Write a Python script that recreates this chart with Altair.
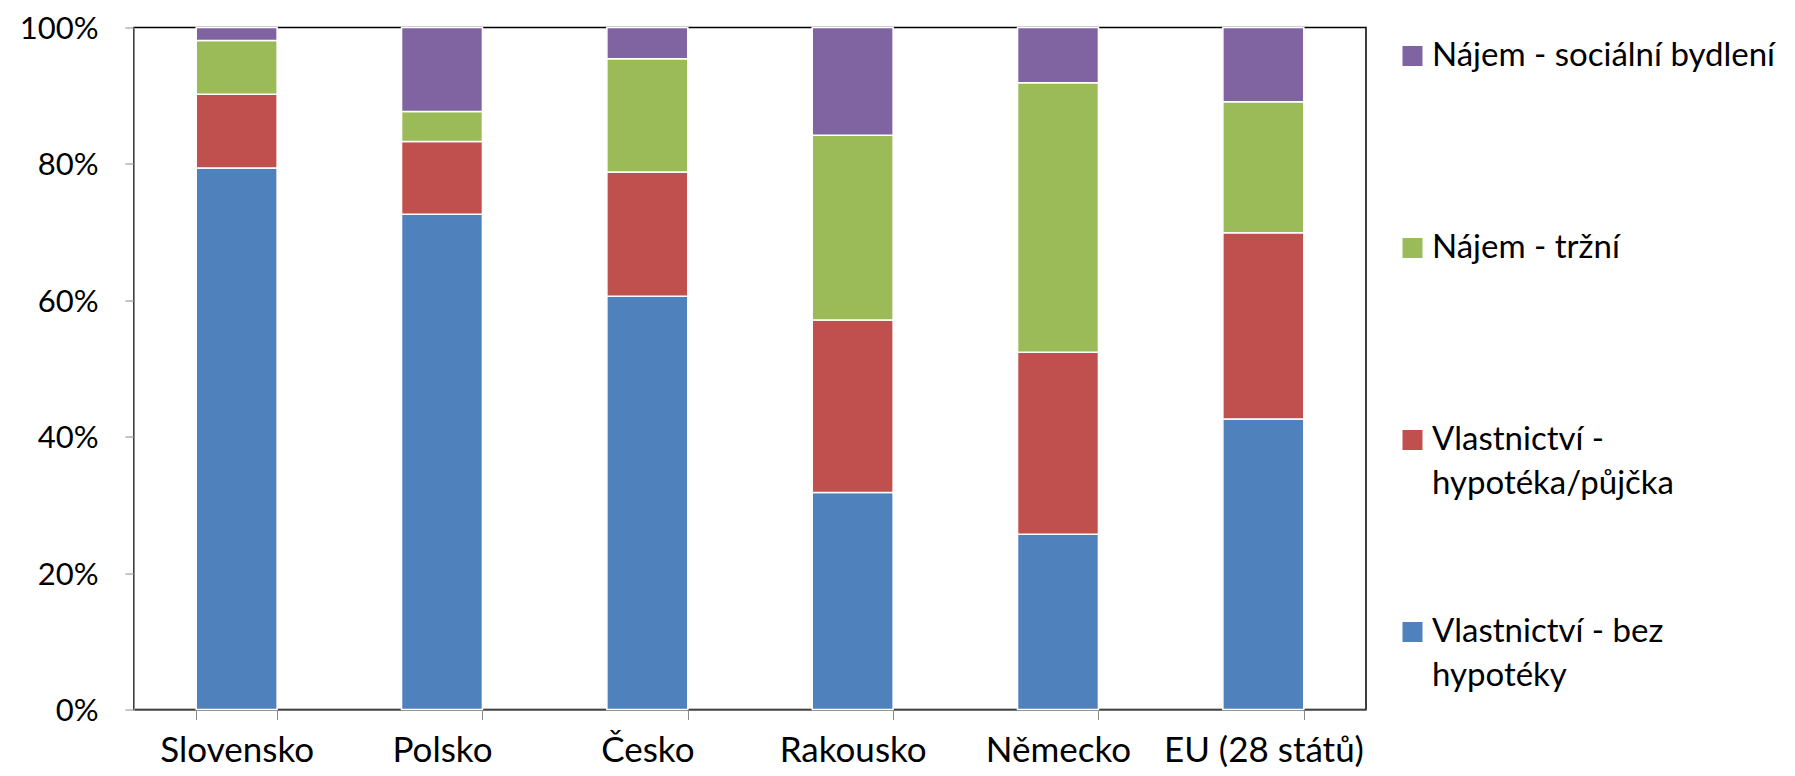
import json
import altair as alt
import pandas as pd

countries = ["Slovensko", "Polsko", "Česko", "Rakousko", "Německo", "EU (28 států)"]

series = [
    "Vlastnictví - bez hypotéky",
    "Vlastnictví - hypotéka/půjčka",
    "Nájem - tržní",
    "Nájem - sociální bydlení",
]
own_outright = [79.4, 72.6, 60.6, 31.8, 25.7, 42.6]
own_mortgage = [10.8, 10.7, 18.2, 25.3, 26.7, 27.3]
rent_market = [7.9, 4.4, 16.6, 27.1, 39.5, 19.2]
rent_social = [1.9, 12.3, 4.6, 15.8, 8.1, 10.9]
colors = ["#4F81BD", "#C0504D", "#9BBB59", "#8064A2"]

legend_lines = {
    "Vlastnictví - bez hypotéky": ["Vlastnictví - bez", "hypotéky"],
    "Vlastnictví - hypotéka/půjčka": ["Vlastnictví -", "hypotéka/půjčka"],
    "Nájem - tržní": ["Nájem - tržní", ""],
    "Nájem - sociální bydlení": ["Nájem - sociální bydlení", ""],
}

values = [own_outright, own_mortgage, rent_market, rent_social]
rows = []
for si, (name, vals) in enumerate(zip(series, values)):
    for c, v in zip(countries, vals):
        rows.append({"country": c, "series": name, "value": v, "idx": si})
df = pd.DataFrame(rows)

expr = "datum.label"
for k, lines in legend_lines.items():
    expr = f"datum.label === {json.dumps(k)} ? {json.dumps(lines)} : ({expr})"

FONT = "Lato"

chart = (
    alt.Chart(df)
    .mark_bar(stroke="white", strokeWidth=1.5)
    .encode(
        x=alt.X(
            "country:N",
            sort=countries,
            scale=alt.Scale(paddingInner=0.606, paddingOuter=0.303),
            axis=alt.Axis(
                title=None,
                labelAngle=0,
                tickBand="extent",
                tickSize=10,
                tickColor="#8a8a8a",
                domainColor="#595959",
                domainWidth=1.5,
                labelBaseline="alphabetic",
                labelPadding=42,
                labelFontSize=35,
                labelLimit=0,
            ),
        ),
        y=alt.Y(
            "value:Q",
            stack=True,
            scale=alt.Scale(domain=[0, 100], nice=False),
            axis=alt.Axis(
                title=None,
                values=[0, 20, 40, 60, 80, 100],
                labelExpr="datum.value + '%'",
                grid=False,
                tickSize=9,
                tickColor="#8a8a8a",
                domainColor="#8a8a8a",
                labelPadding=27,
                labelFontSize=31,
                labelLineHeight=31,
                labelOffset=2,
            ),
        ),
        color=alt.Color(
            "series:N",
            scale=alt.Scale(domain=series[::-1], range=colors[::-1]),
            legend=alt.Legend(
                title=None,
                orient="none",
                legendX=1262,
                legendY=12,
                direction="vertical",
                symbolType="square",
                symbolSize=400,
                symbolStrokeWidth=0,
                symbolOpacity=1,
                labelFontSize=33,
                labelFont=FONT,
                labelColor="#000",
                labelOffset=3,
                labelLimit=0,
                rowPadding=114,
                labelExpr=expr,
            ),
        ),
        order=alt.Order("idx:Q"),
    )
    .properties(
        width=1232,
        height=682,
        autosize=alt.AutoSizeParams(type="none"),
        padding={"left": 126, "top": 19.5, "right": 421, "bottom": 58.5},
        background="#ffffff",
    )
    .configure(style={"guide-label": {"lineHeight": 44}})
    .configure_view(stroke="#000000", strokeWidth=1.5)
    .configure_axis(labelFont=FONT, labelColor="#000000")
)

chart.save("out.html", embed_options={"renderer": "svg", "actions": False})
